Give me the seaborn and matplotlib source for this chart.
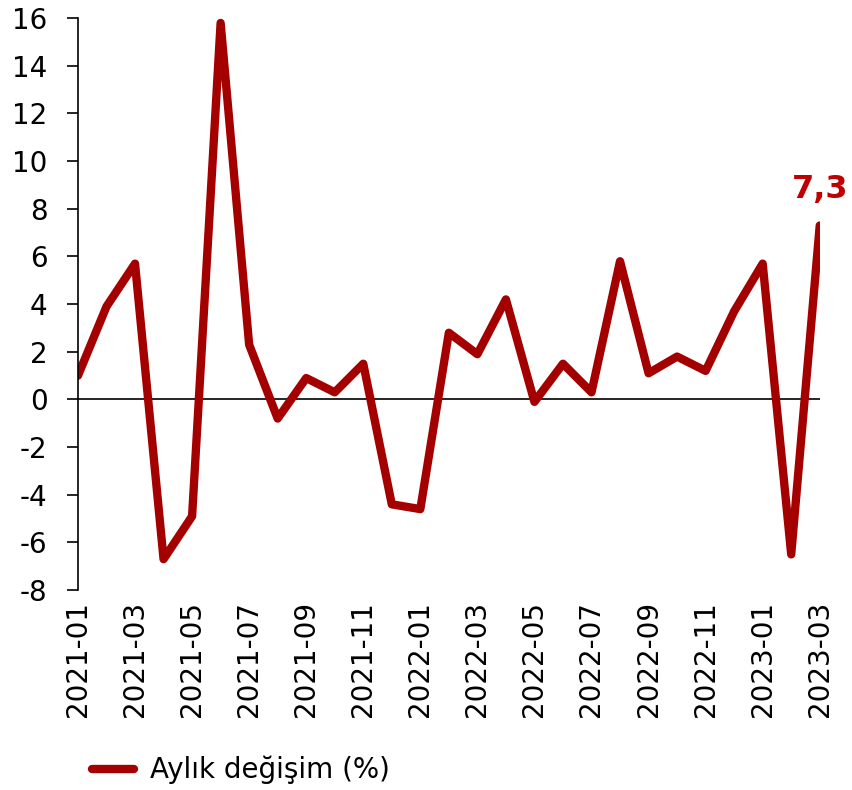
import matplotlib
matplotlib.use('Agg')
import matplotlib.pyplot as plt
import numpy as np
import pandas as pd
import seaborn as sns

# aylik degisim verisi
months = ['2021-01', '2021-02', '2021-03', '2021-04', '2021-05', '2021-06', '2021-07',
          '2021-08', '2021-09', '2021-10', '2021-11', '2021-12', '2022-01', '2022-02',
          '2022-03', '2022-04', '2022-05', '2022-06', '2022-07', '2022-08', '2022-09',
          '2022-10', '2022-11', '2022-12', '2023-01', '2023-02', '2023-03']
values = [1.0, 3.9, 5.7, -6.7, -4.9, 15.8, 2.3, -0.8, 0.9, 0.3, 1.5, -4.4, -4.6, 2.8,
          1.9, 4.2, -0.1, 1.5, 0.3, 5.8, 1.1, 1.8, 1.2, 3.7, 5.7, -6.5, 7.3]
yticks = list(range(-8, 17, 2))
series_name = 'Aylık değişim (%)'

sns.set_style('white')
plt.rcParams['font.family'] = ['DejaVu Sans']
plt.rcParams['text.color'] = 'black'
plt.rcParams['xtick.color'] = 'black'
plt.rcParams['ytick.color'] = 'black'

df = pd.DataFrame({'pos': np.arange(len(months)), 'month': months, 'val': values})

fig = plt.figure(figsize=(8.53, 7.90), dpi=100)
ax = fig.add_axes([0.0914, 0.253, 0.8696, 0.724])

sns.lineplot(data=df, x='pos', y='val', ax=ax, color='#A50000', linewidth=6,
             label=series_name, solid_joinstyle='round', solid_capstyle='round')
ax.axhline(0, color='black', linewidth=1.2, zorder=1)

ax.set_xlim(0, len(months) - 1)
ax.set_ylim(-8, 16)
ax.set_yticks(yticks)
ax.set_yticklabels([str(t) for t in yticks], fontsize=20)
ax.set_xticks(df['pos'][::2])
ax.set_xticklabels(df['month'][::2], rotation=90, fontsize=20)
ax.set_xlabel('')
ax.set_ylabel('')

for s in ['top', 'right', 'bottom']:
    ax.spines[s].set_visible(False)
ax.spines['left'].set_color('black')
ax.spines['left'].set_linewidth(1.2)
ax.tick_params(axis='y', direction='out', length=8, width=1.2, color='black', left=True, pad=14)
ax.tick_params(axis='x', length=0, pad=8)

last = len(values) - 1
ax.annotate(f'{values[-1]:.1f}'.replace('.', ','), xy=(last, values[-1]), xytext=(0, 15),
            textcoords='offset points', ha='center', va='bottom', fontsize=23,
            fontweight='bold', color='#C00000', annotation_clip=False)

leg = ax.legend(loc='center left', bbox_to_anchor=(0.108, 0.0253),
                bbox_transform=fig.transFigure, frameon=False, borderpad=0,
                borderaxespad=0, fontsize=20, handlelength=1.5, handletextpad=0.6)

fig.savefig('out.png', dpi=100)
